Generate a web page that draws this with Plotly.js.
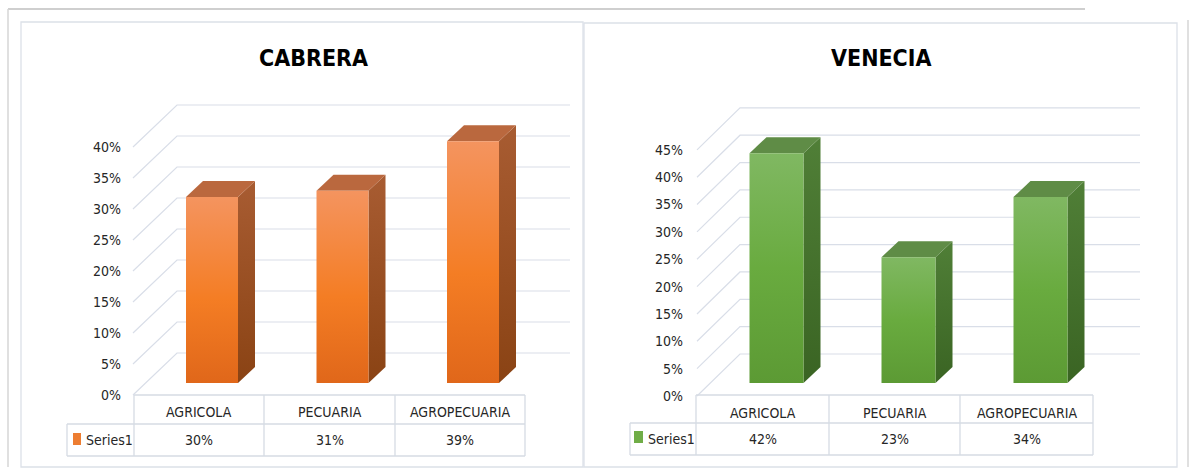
<!DOCTYPE html>
<html><head><meta charset="utf-8">
<script src="https://cdn.plot.ly/plotly-3.0.1.min.js"></script>
<style>html,body{margin:0;padding:0;background:#fff}#chart{width:1189px;height:470px}</style>
</head><body><div id="chart"></div>
<script>
// ---------------- DATA ----------------
const categories = ['AGRICOLA', 'PECUARIA', 'AGROPECUARIA'];
const seriesName = 'Series1';
const cabreraTitle = 'CABRERA';
const cabreraValues = [30, 31, 39];
const cabreraTicks = [0, 5, 10, 15, 20, 25, 30, 35, 40];
const veneciaTitle = 'VENECIA';
const veneciaValues = [42, 23, 34];
const veneciaTicks = [0, 5, 10, 15, 20, 25, 30, 35, 40, 45];

// ---------------- GEOMETRY / STYLE ----------------
const W = 1189, H = 470;
const FONT = "'Liberation Sans Narrow', 'DejaVu Sans Condensed', 'Arial Narrow', sans-serif";
const GRID = '#D9DEE8';
const TABLE = '#D6DBE3';

const panels = [
  {
    title: cabreraTitle, values: cabreraValues, ticks: cabreraTicks, yaxis: 'y',
    pxPer: 6.2, floorY: 395, frontX: 133, backX0: 177, backX1: 570, diagDy: 42,
    tableX: [67, 134, 264, 395, 525], tableY: [395, 424, 456],
    barShift: 13, barW: 52, barLift: 12, depthX: 17, depthY: 16,
    labelPos: 121, titleX: 313, titleY: 58, key: [73, 81, 433, 445], seriesX: 84,
    headerY: 412, valueY: 440,
    front: [[0, '#E0671A'], [0.45, '#F47D24'], [1, '#F4945F']],
    top: '#BA683E',
    side: [[0, '#8A4314'], [1, '#A85C32']],
    keyColor: '#ED7D31'
  },
  {
    title: veneciaTitle, values: veneciaValues, ticks: veneciaTicks, yaxis: 'y2',
    pxPer: 5.47, floorY: 396, frontX: 697, backX0: 740, backX1: 1140, diagDy: 42,
    tableX: [630, 696, 829, 960, 1093], tableY: [395, 423, 455],
    barShift: 14, barW: 54, barLift: 13, depthX: 17, depthY: 16,
    labelPos: 683, titleX: 881, titleY: 58, key: [634, 643, 431, 443], seriesX: 646,
    headerY: 413, valueY: 439,
    front: [[0, '#5C9A34'], [0.5, '#69AB3F'], [1, '#80B862']],
    top: '#5F8C46',
    side: [[0, '#3A6423'], [1, '#507F37']],
    keyColor: '#70AD47'
  }
];

const px2py = y => 1 - y / H;
const traces = [];
const shapes = [];
const annotations = [];
const layout = {
  width: W, height: H,
  margin: {l: 0, r: 0, t: 0, b: 0},
  paper_bgcolor: '#ffffff', plot_bgcolor: 'rgba(0,0,0,0)',
  showlegend: false, hovermode: false,
  xaxis: {range: [0, W], domain: [0, 1], visible: false, fixedrange: true},
  shapes: shapes, annotations: annotations
};

panels.forEach((p, pi) => {
  const yName = pi === 0 ? 'yaxis' : 'yaxis2';
  layout[yName] = {
    range: [(p.floorY - H) / p.pxPer, p.floorY / p.pxPer],
    domain: [0, 1], anchor: 'free', position: p.labelPos / W,
    showgrid: false, zeroline: false, showline: false, ticks: '',
    tickvals: p.ticks, ticktext: p.ticks.map(t => t + '%'),
    tickfont: {family: FONT, size: 14, color: '#262626'},
    fixedrange: true
  };
  if (pi === 1) layout[yName].overlaying = 'y';

  // gridlines: side-wall diagonals + back-wall horizontals
  const D = p.diagDy / p.pxPer;
  const gx = [], gy = [];
  p.ticks.forEach(t => {
    gx.push(p.frontX, p.backX0, p.backX1, null);
    gy.push(t, t + D, t + D, null);
  });
  traces.push({type: 'scatter', mode: 'lines', x: gx, y: gy, yaxis: p.yaxis,
    line: {color: GRID, width: 1.2}, hoverinfo: 'skip'});

  // bars
  const b = p.barLift / p.pxPer;
  const dy = p.depthY / p.pxPer;
  const dx = p.depthX;
  p.values.forEach((v, i) => {
    const c = (p.tableX[i + 1] + p.tableX[i + 2]) / 2 + p.barShift;
    const L = c - p.barW / 2, R = c + p.barW / 2;
    const top = v + b;
    traces.push({type: 'scatter', mode: 'lines', yaxis: p.yaxis,
      x: [R, R, R + dx, R + dx, R], y: [b, top, top + dy, b + dy, b],
      fill: 'toself', line: {width: 0, color: p.side[1][1]},
      fillcolor: p.side[1][1],
      fillgradient: {type: 'vertical', colorscale: p.side, start: b, stop: top + dy},
      hoverinfo: 'skip'});
    traces.push({type: 'scatter', mode: 'lines', yaxis: p.yaxis,
      x: [L, R, R + dx, L + dx, L], y: [top, top, top + dy, top + dy, top],
      fill: 'toself', line: {width: 0, color: p.top}, fillcolor: p.top,
      hoverinfo: 'skip'});
    traces.push({type: 'scatter', mode: 'lines', yaxis: p.yaxis,
      x: [L, R, R, L, L], y: [b, b, top, top, b],
      fill: 'toself', line: {width: 0, color: p.front[1][1]},
      fillcolor: p.front[1][1],
      fillgradient: {type: 'vertical', colorscale: p.front, start: b, stop: top},
      name: categories[i], hoverinfo: 'skip'});
  });

  // data table
  const [x0, x1, , , xe] = p.tableX;
  const [y0, y1, y2] = p.tableY;
  const line = (ax, ay, bx, by) => shapes.push({type: 'line', xref: 'x', yref: 'paper',
    x0: ax, x1: bx, y0: px2py(ay), y1: px2py(by), line: {color: TABLE, width: 1.3}});
  line(x1, y0, xe, y0);
  line(x0, y1, xe, y1);
  line(x0, y2, xe, y2);
  line(x0, y1, x0, y2);
  for (let k = 1; k < p.tableX.length; k++) line(p.tableX[k], y0, p.tableX[k], y2);

  categories.forEach((cat, i) => {
    const cx = (p.tableX[i + 1] + p.tableX[i + 2]) / 2;
    annotations.push({xref: 'x', yref: 'paper', x: cx, y: px2py(p.headerY), text: cat,
      showarrow: false, xanchor: 'center', yanchor: 'middle',
      font: {family: FONT, size: 14, color: '#262626'}});
    annotations.push({xref: 'x', yref: 'paper', x: cx, y: px2py(p.valueY), text: p.values[i] + '%',
      showarrow: false, xanchor: 'center', yanchor: 'middle',
      font: {family: FONT, size: 14, color: '#262626'}});
  });
  shapes.push({type: 'rect', xref: 'x', yref: 'paper', x0: p.key[0], x1: p.key[1],
    y0: px2py(p.key[3]), y1: px2py(p.key[2]), fillcolor: p.keyColor, line: {width: 0}});
  annotations.push({xref: 'x', yref: 'paper', x: p.seriesX, y: px2py(p.valueY), text: seriesName,
    showarrow: false, xanchor: 'left', yanchor: 'middle',
    font: {family: FONT, size: 14, color: '#262626'}});

  annotations.push({xref: 'x', yref: 'paper', x: p.titleX, y: px2py(p.titleY), text: '<b>' + p.title + '</b>',
    showarrow: false, xanchor: 'center', yanchor: 'middle',
    font: {family: FONT, size: 23, color: '#000000'}});
});

// panel borders and outer frame
const pline = (ax, ay, bx, by, color, w) => shapes.push({type: 'line', xref: 'paper', yref: 'paper',
  x0: ax / W, x1: bx / W, y0: px2py(ay), y1: px2py(by), line: {color: color, width: w}});
pline(8, 9, 1085, 9, '#CFCFCF', 2);
pline(8, 9, 8, 467, '#D6D6D6', 1.5);
pline(1188, 20, 1188, 467, '#D6D6D6', 1.5);
shapes.push({type: 'rect', xref: 'paper', yref: 'paper', x0: 21 / W, x1: 583 / W,
  y0: px2py(467), y1: px2py(22), line: {color: '#DCE1E8', width: 1.3}});
shapes.push({type: 'rect', xref: 'paper', yref: 'paper', x0: 584 / W, x1: 1177 / W,
  y0: px2py(467), y1: px2py(23), line: {color: '#DCE1E8', width: 1.3}});

Plotly.newPlot('chart', traces, layout, {staticPlot: true, displayModeBar: false});
</script>
</body></html>
